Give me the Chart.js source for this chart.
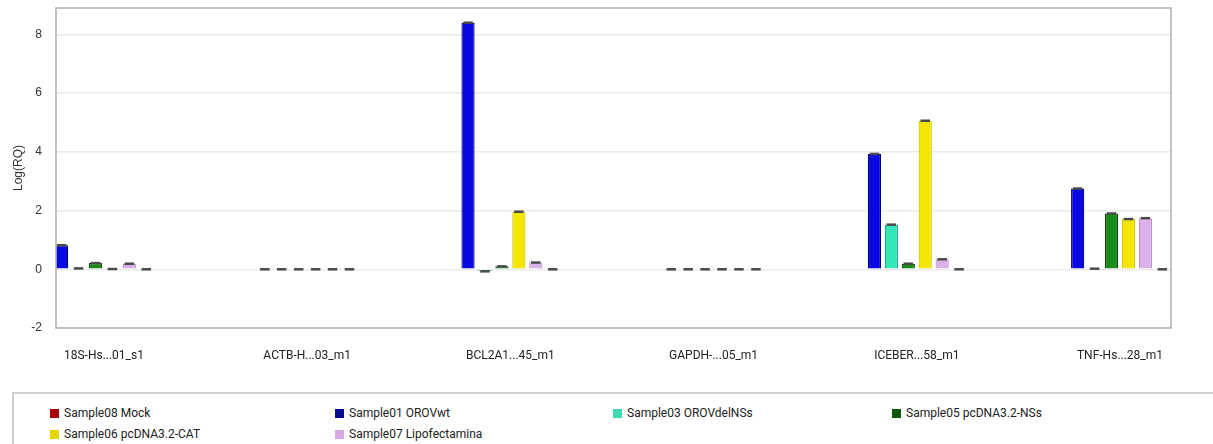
<!DOCTYPE html>
<html>
<head>
<meta charset="utf-8">
<script src="https://cdn.jsdelivr.net/npm/chart.js@4.4.1/dist/chart.umd.min.js"></script>
<style>
  body { margin: 0; background: #fff; }
  #wrap { position: relative; width: 1213px; height: 444px; overflow: hidden; }
  #box { position: absolute; left: 0; top: 0; width: 1213px; height: 372px; }
  #legend { position: absolute; left: 12px; top: 392px; width: 1210px; height: 60px;
            border-top: 2px solid #cfcfcf; border-left: 2px solid #cfcfcf; }
  .item { position: absolute; font: 12px Roboto, sans-serif; color: #222; white-space: nowrap; }
  .sw { display: inline-block; width: 9px; height: 9px; margin-right: 5px; vertical-align: -1px; }
</style>
</head>
<body>
<div id="wrap">
  <div id="box"><canvas id="grafik"></canvas></div>
  <div id="legend"></div>
</div>
<script>
// gen kategorileri
const categories = ['18S-Hs...01_s1', 'ACTB-H...03_m1', 'BCL2A1...45_m1', 'GAPDH-...05_m1', 'ICEBER...58_m1', 'TNF-Hs...28_m1'];

// Log(RQ) degerleri, bar sirasi ile
const orovWt        = [0.82, 0, 8.40, 0, 3.93, 2.75];
const orovDelNSs    = [0.03, 0, -0.07, 0, 1.52, 0.02];
const pcdnaNSs      = [0.21, 0, 0.10, 0, 0.19, 1.90];
const pcdnaCAT      = [0.01, 0, 1.96, 0, 5.06, 1.71];
const lipofectamina = [0.19, 0, 0.23, 0, 0.34, 1.74];
const mock          = [0, 0, 0, 0, 0, 0];

const yTicks = [-2, 0, 2, 4, 6, 8];

const seriler = [
  { label: 'Sample01 OROVwt',        data: orovWt,        fill: '#0808e2', border: '#00006e', legend: '#0a0a90' },
  { label: 'Sample03 OROVdelNSs',    data: orovDelNSs,    fill: '#34e6b8', border: '#1fa888', legend: '#3cdcb0' },
  { label: 'Sample05 pcDNA3.2-NSs',  data: pcdnaNSs,      fill: '#188c18', border: '#0b4a0b', legend: '#0a5a0a' },
  { label: 'Sample06 pcDNA3.2-CAT',  data: pcdnaCAT,      fill: '#f4e600', border: '#d6ca00', legend: '#e6d600' },
  { label: 'Sample07 Lipofectamina', data: lipofectamina, fill: '#dcb0ea', border: '#bc92cc', legend: '#d8a8e2' },
  { label: 'Sample08 Mock',          data: mock,          fill: '#b00000', border: '#700000', legend: '#a80000' }
];

// legend sirasi
const legendSirasi = ['Sample08 Mock', 'Sample01 OROVwt', 'Sample03 OROVdelNSs', 'Sample05 pcDNA3.2-NSs',
                      'Sample06 pcDNA3.2-CAT', 'Sample07 Lipofectamina'];

const cerceve = {
  id: 'cerceve',
  afterDatasetsDraw(chart) {
    const ctx = chart.ctx;
    // hata cubugu kapaklari
    ctx.save();
    ctx.strokeStyle = '#4a4a4a';
    ctx.lineWidth = 2.5;
    chart.data.datasets.forEach((ds, i) => {
      chart.getDatasetMeta(i).data.forEach(el => {
        const w = el.width * 0.36;
        ctx.beginPath();
        ctx.moveTo(el.x - w, el.y);
        ctx.lineTo(el.x + w, el.y);
        ctx.stroke();
      });
    });
    const a = chart.chartArea;
    ctx.strokeStyle = '#b4b4b4';
    ctx.lineWidth = 1.6;
    ctx.strokeRect(a.left, a.top, a.right - a.left, a.bottom - a.top);
    ctx.restore();
  }
};

function grafikCiz() {
  const datasets = seriler.map(s => ({
    label: s.label,
    data: s.data.map((v, i) => ({ x: i, y: v })),
    backgroundColor: s.fill,
    borderColor: s.border,
    borderWidth: 1.2,
    categoryPercentage: 0.5,
    barPercentage: 0.78
  }));

  new Chart(document.getElementById('grafik'), {
    type: 'bar',
    data: { datasets: datasets },
    plugins: [cerceve],
    options: {
      responsive: true,
      maintainAspectRatio: false,
      animation: false,
      layout: { padding: { top: 8, right: 42, left: 0, bottom: 0 } },
      plugins: { legend: { display: false }, tooltip: { enabled: false } },
      scales: {
        x: {
          type: 'linear',
          offset: false,
          min: -0.236,
          max: 5.251,
          afterBuildTicks: s => { s.ticks = categories.map((c, i) => ({ value: i })); },
          afterFit: s => { s.height = 44; s.paddingLeft = 0; s.paddingRight = 0; },
          grid: { display: false, drawTicks: false, offset: false },
          border: { display: false },
          ticks: {
            padding: 21,
            color: '#222',
            font: { family: 'Roboto', size: 12 },
            callback: v => categories[v]
          }
        },
        y: {
          min: -2,
          max: 8.9,
          afterBuildTicks: s => { s.ticks = yTicks.map(v => ({ value: v })); },
          afterFit: s => { s.width = 56; s.paddingTop = 0; s.paddingBottom = 0; },
          grid: { color: '#ebebeb', lineWidth: 1.5, drawTicks: false },
          border: { display: false },
          ticks: { padding: 14, color: '#333', font: { family: 'Liberation Sans', size: 12 } },
          title: { display: true, text: 'Log(RQ)', color: '#333', padding: { top: 11 },
                   font: { family: 'Liberation Sans', size: 12 } }
        }
      }
    }
  });
}

function legendCiz() {
  const kolonlar = [36, 321, 599, 878];
  const satirlar = [12, 33];
  const kutu = document.getElementById('legend');
  legendSirasi.forEach((ad, k) => {
    const s = seriler.find(x => x.label === ad);
    const d = document.createElement('div');
    d.className = 'item';
    d.style.left = kolonlar[k % 4] + 'px';
    d.style.top = satirlar[Math.floor(k / 4)] + 'px';
    d.innerHTML = '<span class="sw" style="background:' + s.legend + '"></span>' + ad;
    kutu.appendChild(d);
  });
}

grafikCiz();
legendCiz();
</script>
</body>
</html>
